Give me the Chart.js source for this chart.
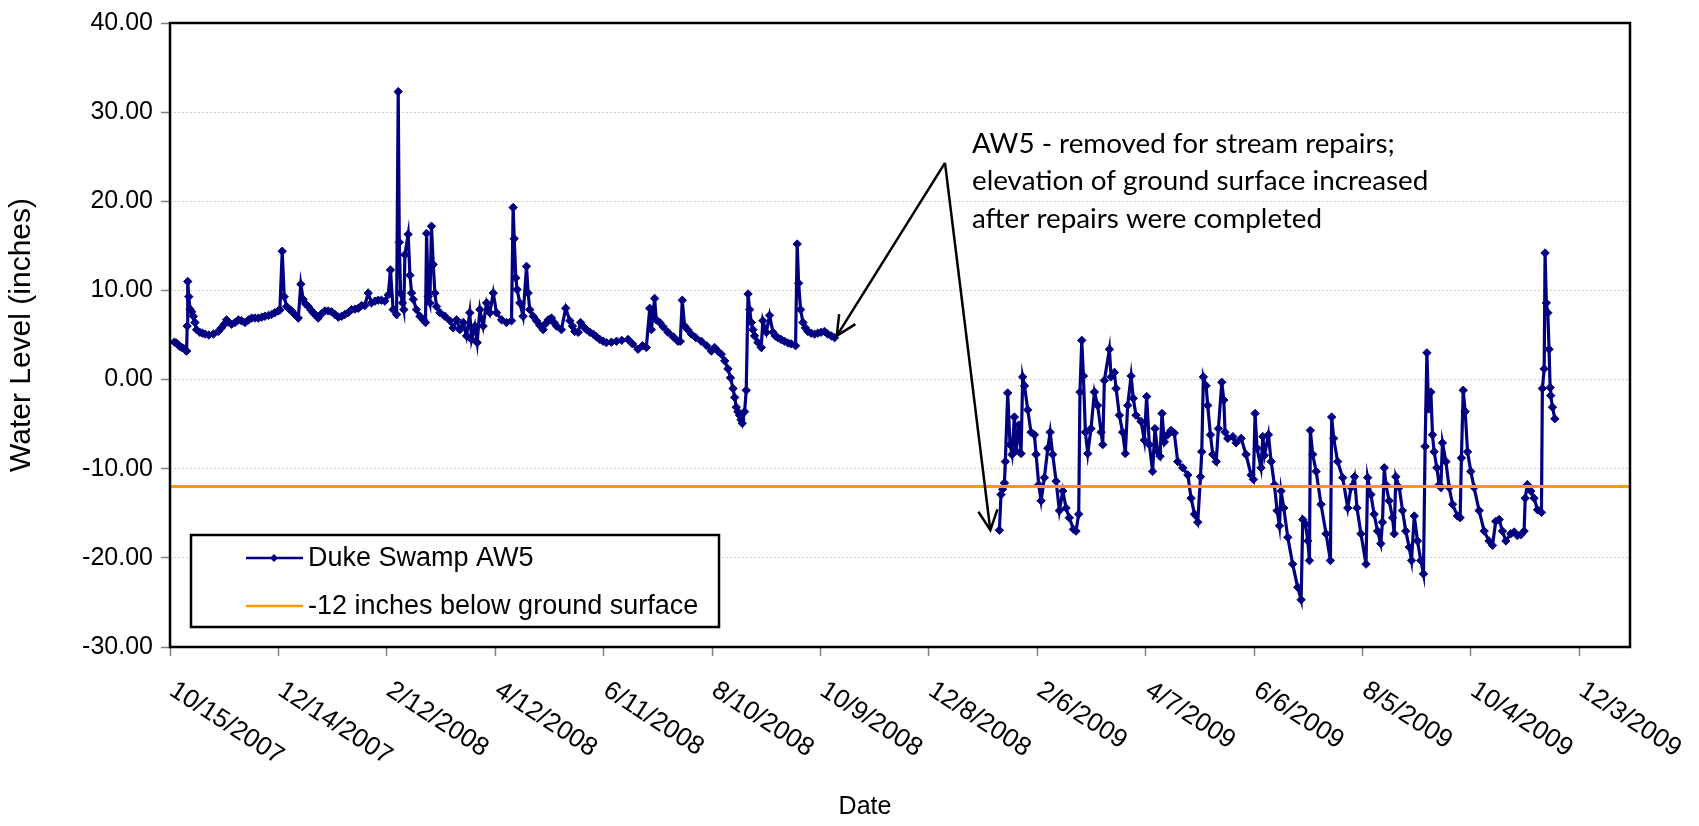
<!DOCTYPE html>
<html>
<head>
<meta charset="utf-8">
<title>Duke Swamp AW5 water level</title>
<script src="https://cdn.jsdelivr.net/npm/chart.js@4.4.1/dist/chart.umd.min.js"></script>
<style>
  html, body { margin: 0; padding: 0; background: #fff; }
  #wrap { width: 1699px; height: 826px; }
</style>
</head>
<body>
<div id="wrap"><canvas id="chart" width="1699" height="826"></canvas></div>
<script>
// x values are days after 10/15/2007 (axis runs to 12/31/2009)
const tickLabels = ["10/15/2007", "12/14/2007", "2/12/2008", "4/12/2008", "6/11/2008", "8/10/2008", "10/9/2008",
  "12/8/2008", "2/6/2009", "4/7/2009", "6/6/2009", "8/5/2009", "10/4/2009", "12/3/2009"];
const tickStepDays = 60;
const xMaxDay = 808;
const yMin = -30, yMax = 40, yStep = 10;
const groundLevel = -12;

// Duke Swamp AW5, before removal
const seg1Days = [
  2.4, 3.5, 4.5, 5.5, 6.5, 7.5, 8.5, 9.2, 9.5, 9.8,
  10.4, 11.1, 12.0, 12.9, 13.8, 14.7, 16.5, 18.0, 19.4, 21.5,
  24.0, 26.7, 28.5, 30.0, 31.3, 32.7, 34.1, 36.0, 37.8, 39.5,
  41.5, 43.5, 45.2, 47.0, 48.9, 50.8, 52.5, 54.5, 56.2, 58.0,
  59.9, 60.8, 62.1, 63.2, 64.5, 66.0, 67.3, 69.0, 71.0, 72.4,
  73.7, 75.0, 76.5, 78.0, 79.3, 80.6, 82.0, 84.0, 85.7, 87.5,
  89.4, 91.3, 93.1, 95.0, 96.8, 98.6, 100.5, 102.4, 104.2, 106.0,
  107.8, 109.7, 111.5, 113.4, 115.2, 117.0, 118.9, 120.8, 122.0, 123.5,
  125.4, 126.3, 126.9, 127.6, 128.7, 129.4, 130.0, 131.8, 132.8, 133.7,
  134.6, 136.4, 138.3, 140.1, 141.4, 142.0, 142.9, 143.8, 144.7, 145.7,
  146.6, 147.5, 149.4, 152.1, 154.9, 156.7, 158.6, 160.4, 162.3, 164.1,
  165.9, 166.9, 168.7, 170.0, 171.5, 173.3, 175.2, 177.0, 178.9, 180.7,
  183.5, 186.2, 189.0, 189.9, 190.5, 191.4, 192.1, 193.6, 195.4, 197.3,
  198.2, 199.1, 201.0, 202.8, 204.6, 206.5, 208.0, 209.3, 211.1, 212.5,
  213.9, 216.6, 219.0, 221.3, 222.7, 224.0, 225.9, 227.2, 229.0, 230.5,
  232.4, 234.2, 236.0, 237.9, 239.7, 241.5, 244.3, 247.1, 250.0, 253.5,
  256.0, 259.0, 261.5, 263.6, 265.5, 266.4, 268.2, 269.1, 271.0, 273.0,
  275.6, 278.5, 281.1, 282.4, 283.5, 284.8, 286.5, 288.5, 291.0, 294.0,
  297.0, 299.6, 301.4, 303.2, 305.1, 307.0, 308.8, 310.2, 311.6, 312.5,
  313.4, 314.3, 315.2, 316.0, 316.7, 318.0, 318.9, 319.9, 320.8, 321.7,
  322.6, 323.5, 325.4, 327.2, 328.1, 330.0, 331.8, 333.7, 335.0, 336.4,
  338.2, 340.1, 342.0, 343.8, 346.2, 347.1, 347.9, 349.0, 350.3, 351.6,
  353.0, 354.8, 356.7, 358.5, 360.3, 362.2, 364.0, 366.0, 367.8
];
const seg1Levels = [
  4.2, 4.1, 3.9, 3.7, 3.6, 3.5, 3.3, 3.2, 6.0, 11.0,
  9.3, 7.9, 7.6, 7.1, 6.4, 5.6, 5.3, 5.2, 5.1, 5.0,
  5.1, 5.4, 5.8, 6.2, 6.7, 6.4, 6.2, 6.4, 6.7, 6.6,
  6.4, 6.7, 6.9, 6.9, 6.9, 7.0, 7.1, 7.2, 7.3, 7.5,
  7.7, 7.8, 14.4, 9.3, 8.2, 7.9, 7.7, 7.3, 6.9, 10.7,
  9.0, 8.5, 8.2, 7.8, 7.5, 7.2, 6.9, 7.4, 7.7, 7.7,
  7.6, 7.3, 7.0, 7.1, 7.3, 7.5, 7.85, 7.9, 8.0, 8.3,
  8.3, 9.7, 8.6, 8.8, 8.9, 8.9, 8.8, 9.5, 12.3, 7.85,
  7.3, 32.3, 15.4, 9.7, 8.6, 7.85, 14.0, 16.3, 11.7, 9.7,
  9.0, 7.85, 7.1, 6.7, 6.4, 16.4, 9.3, 8.6, 17.2, 12.9,
  9.7, 8.2, 7.5, 7.1, 6.6, 5.8, 6.7, 5.6, 6.4, 4.9,
  7.5, 4.5, 6.0, 4.15, 7.85, 6.0, 8.6, 7.5, 9.7, 7.5,
  6.7, 6.4, 6.6, 19.3, 15.8, 11.4, 10.1, 8.6, 7.1, 12.7,
  9.7, 7.85, 7.1, 6.6, 6.1, 5.6, 6.3, 6.7, 6.9, 6.4,
  6.0, 5.6, 8.0, 6.6, 6.0, 5.4, 5.3, 6.4, 5.9, 5.6,
  5.3, 5.1, 4.8, 4.5, 4.3, 4.15, 4.2, 4.3, 4.4, 4.5,
  4.0, 3.4, 3.8, 3.6, 8.0, 5.6, 9.1, 6.7, 6.4, 5.9,
  5.3, 4.8, 4.3, 4.3, 8.9, 6.0, 5.6, 5.1, 4.7, 4.3,
  3.8, 3.2, 3.6, 3.2, 2.85, 2.1, 1.2, 0.2, -1.0, -2.0,
  -3.1, -3.6, -4.0, -4.5, -4.9, -3.6, -1.2, 9.6, 7.85, 6.4,
  5.6, 4.9, 4.15, 3.6, 6.6, 5.3, 7.2, 5.3, 4.9, 4.7,
  4.5, 4.3, 4.1, 4.0, 3.8, 15.2, 10.8, 7.85, 6.4, 5.8,
  5.4, 5.2, 5.1, 5.2, 5.3, 5.4, 5.1, 4.9, 4.7
];

// Duke Swamp AW5, after stream repairs
const seg2Days = [
  459.0, 459.9, 460.8, 461.8, 462.3, 463.6, 464.9, 466.0, 467.3, 468.2,
  469.7, 471.0, 471.9, 472.9, 474.7, 476.5, 478.4, 479.3, 480.8, 482.1,
  483.9, 485.8, 487.1, 488.5, 490.4, 492.2, 494.1, 495.9, 497.7, 500.0,
  501.4, 502.9, 503.6, 504.6, 505.5, 506.6, 507.9, 509.7, 511.6, 513.4,
  515.3, 516.2, 517.1, 519.9, 520.8, 522.6, 523.6, 525.4, 527.2, 528.7,
  530.0, 531.9, 533.1, 534.6, 537.4, 539.2, 540.5, 542.0, 543.8, 545.1,
  546.6, 547.9, 549.0, 550.3, 552.1, 554.0, 555.8, 557.7, 560.5, 563.3,
  565.1, 567.0, 568.8, 570.3, 571.0, 571.9, 573.4, 574.3, 575.8, 577.1,
  579.0, 580.2, 582.1, 583.2, 583.9, 585.4, 588.2, 590.0, 592.8, 595.5,
  598.3, 599.6, 600.5, 601.6, 603.8, 604.8, 605.7, 607.9, 609.4, 611.2,
  612.7, 614.0, 614.9, 616.4, 618.6, 621.3, 624.1, 626.0, 626.9, 628.4,
  629.7, 630.6, 631.1, 632.4, 634.3, 637.0, 639.8, 642.2, 642.9, 644.0,
  646.2, 649.0, 651.8, 653.6, 655.5, 656.9, 659.1, 661.9, 662.8, 664.6,
  666.4, 668.3, 670.1, 671.0, 672.0, 672.9, 674.7, 676.6, 677.5, 678.4,
  680.3, 682.1, 683.9, 685.8, 687.1, 688.6, 690.4, 692.2, 693.7, 694.6,
  695.6, 696.5, 697.8, 698.7, 699.6, 701.1, 702.4, 703.3, 704.2, 706.1,
  707.9, 709.8, 712.5, 714.0, 714.7, 715.7, 716.8, 718.1, 719.9, 721.7,
  724.5, 727.3, 730.0, 731.9, 733.7, 735.6, 737.4, 739.3, 742.0, 743.9,
  745.7, 747.6, 749.4, 750.0, 751.2, 753.1, 754.9, 756.8, 759.0, 759.5,
  760.5, 761.0, 761.7, 762.5, 763.2, 763.8, 764.1, 765.1, 766.4
];
const seg2Levels = [
  -16.9, -12.9, -12.3, -11.6, -9.2, -1.5, -7.3, -8.4, -4.2, -8.0,
  -5.1, -8.3, 0.3, -0.7, -3.4, -5.9, -6.2, -8.4, -11.8, -13.6,
  -11.0, -7.7, -5.9, -8.4, -11.4, -14.7, -12.5, -14.4, -15.5, -16.8,
  -17.0, -15.1, -1.4, 4.4, 0.4, -5.9, -8.3, -5.5, -1.4, -2.9,
  -5.9, -7.3, -0.1, 3.4, 0.3, 0.8, -1.0, -4.0, -5.9, -8.3,
  -2.9, 0.4, -2.1, -4.0, -4.7, -6.8, -1.9, -7.3, -10.3, -5.5,
  -8.1, -8.6, -3.8, -7.0, -6.2, -5.7, -6.0, -9.2, -9.9, -10.7,
  -13.3, -15.1, -16.0, -10.9, -8.1, 0.3, -0.7, -2.9, -6.2, -8.4,
  -9.2, -5.5, -0.3, -2.3, -5.9, -6.6, -6.4, -7.1, -6.6, -8.4,
  -10.7, -11.2, -3.8, -7.7, -9.9, -6.4, -8.5, -6.2, -9.2, -11.8,
  -14.7, -16.4, -12.5, -14.4, -17.7, -20.7, -23.3, -24.7, -15.7, -16.2,
  -18.1, -20.3, -5.7, -8.4, -10.3, -14.0, -17.3, -20.3, -4.2, -6.6,
  -9.2, -11.0, -14.4, -12.1, -10.9, -14.4, -17.3, -20.7, -11.0, -12.9,
  -15.1, -17.0, -18.4, -16.0, -9.9, -11.8, -13.6, -15.5, -17.3, -10.9,
  -12.1, -14.7, -17.0, -18.8, -20.3, -15.3, -18.1, -20.3, -21.8, -7.5,
  3.0, -3.3, -1.4, -6.2, -8.1, -9.9, -11.8, -12.1, -7.1, -9.2,
  -12.1, -14.0, -15.3, -15.5, -8.8, -1.2, -3.6, -8.1, -10.3, -12.1,
  -14.7, -17.0, -18.1, -18.6, -15.9, -15.7, -17.0, -18.1, -17.3, -17.1,
  -17.5, -17.4, -17.0, -13.3, -11.8, -12.5, -13.3, -14.6, -14.9, -1.0,
  1.2, 14.2, 8.6, 7.5, 3.4, -0.9, -1.8, -3.1, -4.4
];

const noteLines = ["AW5 - removed for stream repairs;", "elevation of ground surface increased", "after repairs were completed"];
const noteApex = { x: 428.9, y: 24.3 };
const noteTips = [{ x: 369.0, y: 4.9 }, { x: 454.0, y: -16.9 }];

const fontFamily = "'Liberation Sans', Arial, sans-serif";
const tickFont = { family: fontFamily, size: 25 };

const toPoints = (days, levels) => days.map((d, i) => ({ x: d, y: levels[i] }));
const aw5Data = toPoints(seg1Days, seg1Levels)
  .concat([{ x: 410, y: null }]) // logger removed -> break in the line
  .concat(toPoints(seg2Days, seg2Levels));

function arrowHead(ctx, fx, fy, tx, ty) {
  const ang = Math.atan2(ty - fy, tx - fx);
  const len = 22, spread = 0.45;
  ctx.beginPath();
  ctx.moveTo(tx - len * Math.cos(ang - spread), ty - len * Math.sin(ang - spread));
  ctx.lineTo(tx, ty);
  ctx.lineTo(tx - len * Math.cos(ang + spread), ty - len * Math.sin(ang + spread));
  ctx.stroke();
}

// plot frame, slanted date labels, legend box and the callout - drawn the Excel way
const excelExtras = {
  id: "excelExtras",
  afterDraw(chart) {
    const { ctx, chartArea: a } = chart;
    const xs = chart.scales.x, ys = chart.scales.y;
    ctx.save();

    // plot area border
    ctx.strokeStyle = "#000";
    ctx.lineWidth = 2.5;
    ctx.strokeRect(a.left, a.top, a.right - a.left, a.bottom - a.top);

    // x tick labels, slanted down to the right
    ctx.font = "26px " + fontFamily;
    ctx.fillStyle = "#000";
    ctx.textAlign = "left";
    ctx.textBaseline = "middle";
    xs.ticks.forEach((t, i) => {
      const px = xs.getPixelForValue(t.value);
      ctx.save();
      ctx.translate(px + 2, a.bottom + 41);
      ctx.rotate(33 * Math.PI / 180);
      ctx.fillText(tickLabels[i], 0, 0);
      ctx.restore();
    });

    // x axis title
    ctx.font = "25px " + fontFamily;
    ctx.textAlign = "center";
    ctx.fillText("Date", 865, 807);

    // legend
    const lx = 191, ly = 535, lw = 528, lh = 92;
    ctx.fillStyle = "#fff";
    ctx.fillRect(lx, ly, lw, lh);
    ctx.strokeStyle = "#000";
    ctx.lineWidth = 2.5;
    ctx.strokeRect(lx, ly, lw, lh);
    ctx.font = "27px " + fontFamily;
    chart.data.datasets.forEach((ds, i) => {
      const rowY = ly + 23 + i * 48;
      ctx.strokeStyle = ds.borderColor;
      ctx.lineWidth = 2.5;
      ctx.beginPath();
      ctx.moveTo(lx + 55, rowY);
      ctx.lineTo(lx + 112, rowY);
      ctx.stroke();
      if (ds.pointRadius > 0) {
        ctx.fillStyle = ds.borderColor;
        ctx.beginPath();
        ctx.moveTo(lx + 83, rowY - 4);
        ctx.lineTo(lx + 87, rowY);
        ctx.lineTo(lx + 83, rowY + 4);
        ctx.lineTo(lx + 79, rowY);
        ctx.closePath();
        ctx.fill();
      }
      ctx.fillStyle = "#000";
      ctx.textAlign = "left";
      ctx.fillText(ds.label, lx + 117, rowY + 1);
    });

    // callout
    const ax = xs.getPixelForValue(noteApex.x), ay = ys.getPixelForValue(noteApex.y);
    ctx.strokeStyle = "#000";
    ctx.lineWidth = 2.5;
    noteTips.forEach(tp => {
      const tx = xs.getPixelForValue(tp.x), ty = ys.getPixelForValue(tp.y);
      ctx.beginPath();
      ctx.moveTo(ax, ay);
      ctx.lineTo(tx, ty);
      ctx.stroke();
      arrowHead(ctx, ax, ay, tx, ty);
    });
    ctx.font = "100px Lato, 'Open Sans', sans-serif";
    const noteSize = 100 * 456 / ctx.measureText(noteLines[1]).width;
    ctx.font = noteSize.toFixed(1) + "px Lato, 'Open Sans', sans-serif";
    ctx.fillStyle = "#000";
    ctx.textAlign = "left";
    noteLines.forEach((line, i) => ctx.fillText(line, ax + 27, ay - 19 + i * 37.5));

    ctx.restore();
  }
};

new Chart(document.getElementById("chart"), {
  type: "line",
  data: {
    datasets: [
      {
        label: "Duke Swamp AW5",
        data: aw5Data,
        borderColor: "#000080",
        backgroundColor: "#000080",
        borderWidth: 3.2,
        pointStyle: "rectRot",
        pointRadius: 4.2,
        pointBorderWidth: 1,
        spanGaps: false,
        tension: 0,
        order: 1
      },
      {
        label: "-12 inches below ground surface",
        data: [{ x: 0, y: groundLevel }, { x: xMaxDay, y: groundLevel }],
        borderColor: "#FF9900",
        backgroundColor: "#FF9900",
        borderWidth: 3,
        pointRadius: 0,
        order: 0
      }
    ]
  },
  options: {
    responsive: false,
    animation: false,
    devicePixelRatio: 1,
    layout: { padding: { top: 17, right: 69, left: 0, bottom: 0 } },
    plugins: { legend: { display: false }, tooltip: { enabled: false } },
    scales: {
      x: {
        type: "linear",
        min: 0,
        max: xMaxDay,
        afterBuildTicks: axis => { axis.ticks = tickLabels.map((_, i) => ({ value: i * tickStepDays })); },
        afterFit: axis => { axis.height = 179; },
        ticks: { display: false },
        grid: { drawOnChartArea: false, drawTicks: true, tickLength: 9, tickColor: "#808080", tickWidth: 1.5 },
        border: { display: false }
      },
      y: {
        min: yMin,
        max: yMax,
        afterFit: axis => { axis.width = 170; },
        ticks: { stepSize: yStep, callback: v => v.toFixed(2), font: tickFont, color: "#000", padding: 8 },
        grid: { color: "#d0d0d0", lineWidth: 1, tickLength: 9, tickColor: "#808080", tickWidth: 1.5, tickBorderDash: [] },
        border: { display: false, dash: [2, 2] },
        title: { display: true, text: "Water Level (inches)", font: { family: fontFamily, size: 30 }, color: "#000", padding: { top: 4, bottom: 0 } }
      }
    }
  },
  plugins: [excelExtras]
});
</script>
</body>
</html>
